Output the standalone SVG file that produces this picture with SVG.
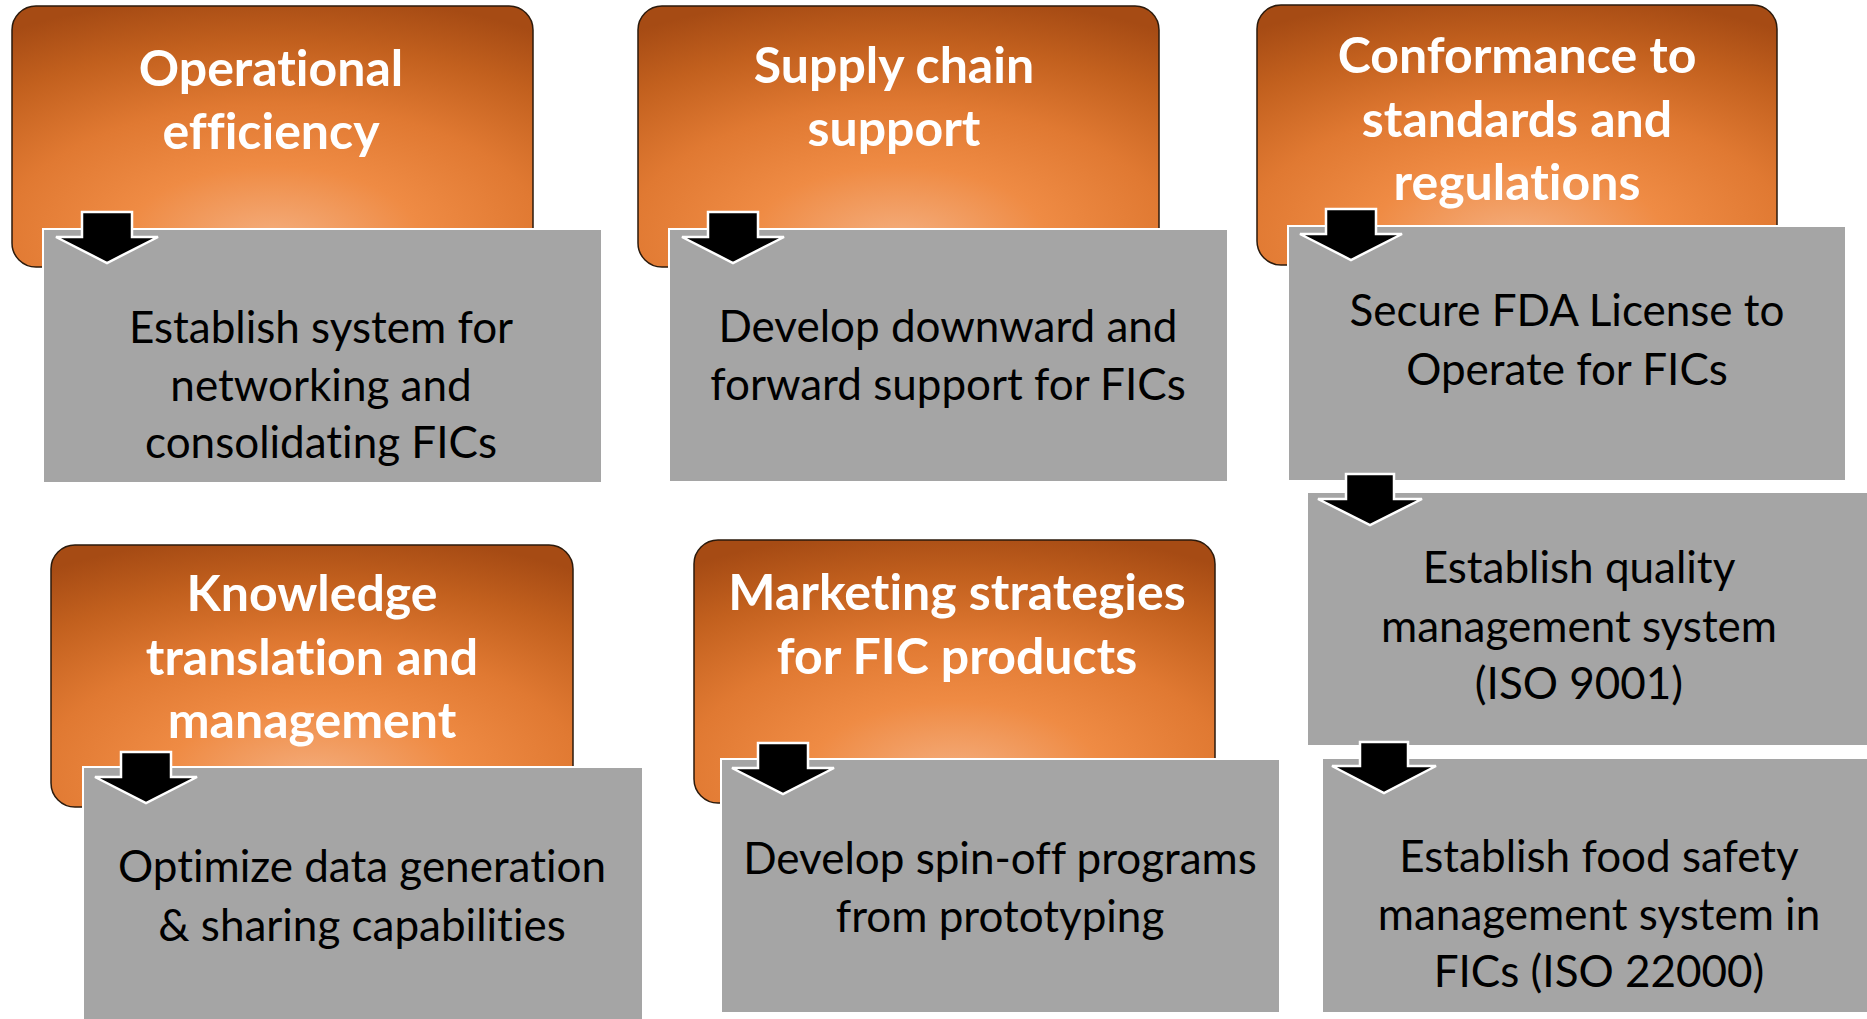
<svg xmlns="http://www.w3.org/2000/svg" width="1867" height="1019" viewBox="0 0 1867 1019">
<style>
.head{stroke:#2b1a0c;stroke-width:1.5}
.box{fill:#a5a5a5;stroke:#ffffff;stroke-width:2}
.arr{fill:#000;stroke:#fff;stroke-width:2.5;stroke-linejoin:miter}
.t{font-family:Lato,"Open Sans","Liberation Sans",sans-serif;font-weight:bold;font-size:50px;fill:#fff;text-anchor:middle;font-variant-ligatures:none}
.b{font-family:Lato,"Open Sans","Liberation Sans",sans-serif;font-size:44px;fill:#000;text-anchor:middle;font-variant-ligatures:none}
</style>
<defs>
<radialGradient id="og" cx="0.5" cy="0.9" r="0.95" fx="0.5" fy="0.9">
<stop offset="0" stop-color="#f4ae7e"/>
<stop offset="0.3" stop-color="#ef8b44"/>
<stop offset="0.55" stop-color="#e07932"/>
<stop offset="0.8" stop-color="#c2601e"/>
<stop offset="1" stop-color="#a64b14"/>
</radialGradient>
</defs>
<rect width="1867" height="1019" fill="#fff"/>

<g id="node-operational">
<rect class="head" x="12" y="6" width="521" height="261" rx="24" fill="url(#og)"/>
<text class="t" x="271" y="86">Operational</text>
<text class="t" x="271" y="149">efficiency</text>
<rect class="box" x="43" y="229" width="559" height="254"/>
<text class="b" x="321" y="343">Establish system for</text>
<text class="b" x="321" y="401">networking and</text>
<text class="b" x="321" y="458">consolidating FICs</text>
</g>

<g id="node-supply">
<rect class="head" x="638" y="6" width="521" height="261" rx="24" fill="url(#og)"/>
<text class="t" x="894" y="83">Supply chain</text>
<text class="t" x="894" y="146">support</text>
<rect class="box" x="669" y="229" width="559" height="253"/>
<text class="b" x="948" y="342">Develop downward and</text>
<text class="b" x="948" y="400">forward support for FICs</text>
</g>

<g id="node-conformance">
<rect class="head" x="1257" y="5" width="520" height="260" rx="24" fill="url(#og)"/>
<text class="t" x="1517" y="73">Conformance to</text>
<text class="t" x="1517" y="137">standards and</text>
<text class="t" x="1517" y="200">regulations</text>
<rect class="box" x="1288" y="226" width="558" height="255"/>
<text class="b" x="1567" y="326">Secure FDA License to</text>
<text class="b" x="1567" y="385">Operate for FICs</text>
</g>

<g id="node-quality">
<rect class="box" x="1307" y="492" width="562" height="254"/>
<text class="b" x="1579" y="583">Establish quality</text>
<text class="b" x="1579" y="642">management system</text>
<text class="b" x="1579" y="699">(ISO 9001)</text>
</g>

<g id="node-foodsafety">
<rect class="box" x="1322" y="758" width="547" height="255"/>
<text class="b" x="1599" y="872">Establish food safety</text>
<text class="b" x="1599" y="930">management system in</text>
<text class="b" x="1599" y="987">FICs (ISO 22000)</text>
</g>

<g id="node-knowledge">
<rect class="head" x="51" y="545" width="522" height="262" rx="24" fill="url(#og)"/>
<text class="t" x="312" y="611">Knowledge</text>
<text class="t" x="312" y="675">translation and</text>
<text class="t" x="312" y="738">management</text>
<rect class="box" x="83" y="767" width="560" height="254"/>
<text class="b" x="362" y="882">Optimize data generation</text>
<text class="b" x="362" y="941">&amp; sharing capabilities</text>
</g>

<g id="node-marketing">
<rect class="head" x="694" y="540" width="521" height="263" rx="24" fill="url(#og)"/>
<text class="t" x="957" y="610">Marketing strategies</text>
<text class="t" x="957" y="674">for FIC products</text>
<rect class="box" x="721" y="759" width="559" height="254"/>
<text class="b" x="1000" y="874">Develop spin-off programs</text>
<text class="b" x="1000" y="932">from prototyping</text>
</g>

<g id="connectors">
<path class="arr" d="M82,212 H132 V237 H158 L107,263 L56,237 H82 Z"/>
<path class="arr" d="M708,212 H758 V237 H784 L733,263 L682,237 H708 Z"/>
<path class="arr" d="M1326,209 H1376 V234 H1402 L1351,260 L1300,234 H1326 Z"/>
<path class="arr" d="M1346,474 H1394 V499 H1422 L1370,525 L1318,499 H1346 Z"/>
<path class="arr" d="M1360,742 H1408 V766 H1436 L1384,793 L1332,766 H1360 Z"/>
<path class="arr" d="M121,752 H171 V777 H197 L146,803 L95,777 H121 Z"/>
<path class="arr" d="M758,743 H808 V768 H834 L783,794 L732,768 H758 Z"/>
</g>
</svg>
